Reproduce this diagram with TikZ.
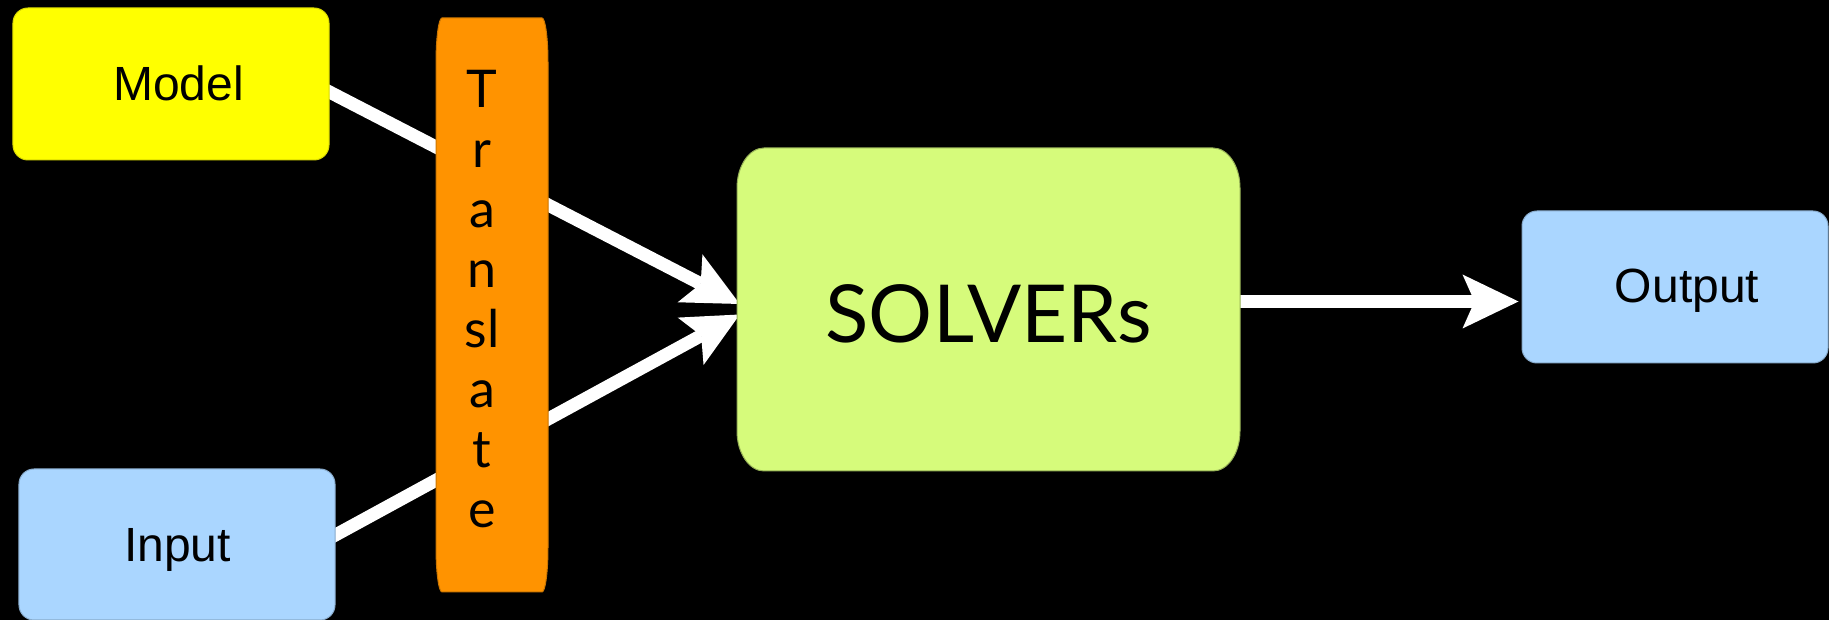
\documentclass[tikz,border=0pt]{standalone}
\usepackage{fontspec}
\setmainfont{Liberation Sans}
\newfontfamily\humanist{Lato}
\usetikzlibrary{arrows.meta}

\definecolor{modelyellow}{HTML}{FFFF00}
\definecolor{ioblue}{HTML}{AAD6FF}
\definecolor{solvergreen}{HTML}{D6FB7B}
\definecolor{translateorange}{HTML}{FF9300}

\pgfdeclarelayer{canvas}
\pgfdeclarelayer{wires}
\pgfsetlayers{canvas,wires,main}

% filled rectangle whose corners are quarter ellipses:
% #1 style, #2 x1, #3 y1, #4 x2, #5 y2, #6 corner x radius, #7 corner y radius
\newcommand{\ovalcornerbox}[7]{%
  \path[#1] (#2+#6,#3) -- (#4-#6,#3)
    arc[start angle=-90, end angle=0, x radius=#6, y radius=#7]
    -- (#4,#5-#7)
    arc[start angle=0, end angle=90, x radius=#6, y radius=#7]
    -- (#2+#6,#5)
    arc[start angle=90, end angle=180, x radius=#6, y radius=#7]
    -- (#2,#3+#7)
    arc[start angle=180, end angle=270, x radius=#6, y radius=#7]
    -- cycle;}

\tikzset{
  box/.style={rectangle, rounded corners=15bp, inner sep=0pt, line width=1bp},
  modelbox/.style={box, fill=modelyellow, draw=modelyellow!85!black},
  iobox/.style={box, fill=ioblue, draw=ioblue!80!black},
  boxtext/.style={font=\fontsize{48bp}{56bp}\selectfont, text height=34.5bp,
    text depth=0pt, inner sep=0pt},
  flow/.style={draw=white, line width=13bp,
    -{Stealth[length=56bp, width=54bp, inset=12bp, line width=0pt]}},
}

\begin{document}
\begin{tikzpicture}[x=1bp, y=1bp]
  \useasboundingbox (0,0) rectangle (1829,620);
  \begin{pgfonlayer}{canvas}
    \fill[black] (0,0) rectangle (1829,620);
  \end{pgfonlayer}

  % inputs and output
  \node[modelbox, minimum width=316bp, minimum height=152bp,
    label={[boxtext, xshift=7.5bp, yshift=1bp]center:Model}] (model) at (171,536) {};
  \node[iobox, minimum width=316bp, minimum height=151bp,
    label={[boxtext, xshift=0.5bp]center:Input}] (input) at (177,75.5) {};
  \node[iobox, minimum width=306bp, minimum height=152bp,
    label={[boxtext, xshift=12bp, yshift=2bp]center:Output}] (output) at (1675,333) {};

  % solver block (the extra text height sets the baseline a little low)
  \ovalcornerbox{fill=solvergreen, draw=solvergreen!70!black, line width=1bp}{737}{149}{1240}{472}{27}{40}
  \node[minimum width=503bp, minimum height=323bp, inner sep=0pt,
    font=\humanist\fontsize{80bp}{90bp}\selectfont, text height=67bp, text depth=0pt]
    (solvers) at (988.5,310.5) {SOLVERs};

  % data flow, kept beneath the blocks
  \coordinate (out-start) at ([yshift=8bp]solvers.east);
  \begin{pgfonlayer}{wires}
    \draw[flow, shorten <=-30bp] ([yshift=-8bp]model.east) -- ([xshift=3bp, yshift=5.5bp]solvers.west);
    \draw[flow, shorten <=-30bp] ([yshift=9.5bp]input.east) -- ([xshift=3bp, yshift=-5bp]solvers.west);
    \draw[flow, shorten >=3bp] (out-start) -- (out-start -| output.west);
  \end{pgfonlayer}

  % translation stage laid over the incoming flows
  \ovalcornerbox{fill=translateorange, draw=translateorange!80!black, line width=1bp}{436}{28}{548}{602}{6}{45}
  \node[font=\humanist\fontsize{52bp}{60bp}\selectfont, align=center, inner sep=0pt, anchor=north]
    (translate) at (482,550) {T\\r\\a\\n\\sl\\a\\t\\e};
\end{tikzpicture}
\end{document}
